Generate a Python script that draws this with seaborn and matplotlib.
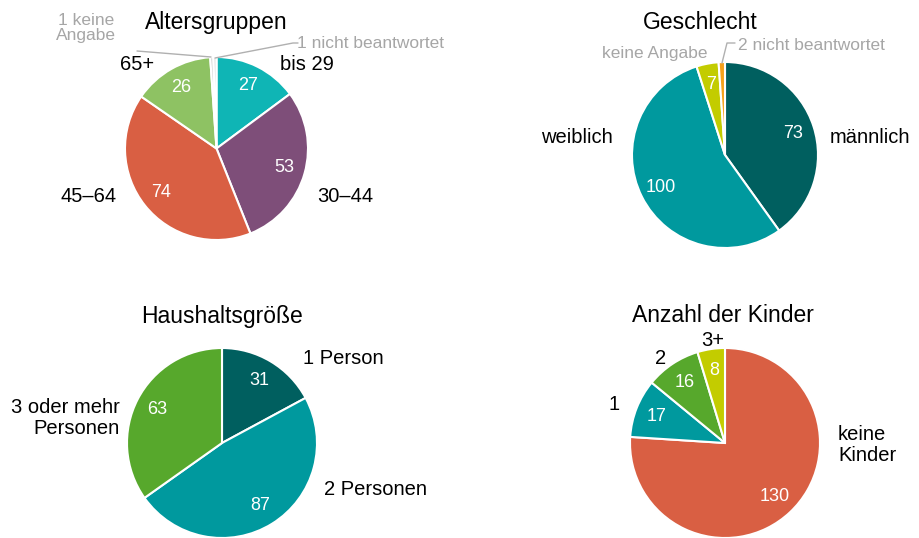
import numpy as np
import matplotlib
matplotlib.use("Agg")
import matplotlib.pyplot as plt
import seaborn as sns

# data
alter_labels = ["bis 29", "30–44", "45–64", "65+", "keine Angabe", "nicht beantwortet"]
alter_values = [27, 53, 74, 26, 1, 1]

geschlecht_labels = ["männlich", "weiblich", "keine Angabe", "nicht beantwortet"]
geschlecht_values = [73, 100, 7, 2]

haushalt_labels = ["1 Person", "2 Personen", "3 oder mehr Personen"]
haushalt_values = [31, 87, 63]

kinder_labels = ["keine Kinder", "1", "2", "3+"]
kinder_values = [130, 17, 16, 8]

sns.set_theme(style="white")
plt.rcParams["font.family"] = ["Liberation Sans", "DejaVu Sans"]

dark_teal = "#005f5f"
teal = "#00999e"
green = "#57a82c"
lime = "#c3cc00"
red = "#d95f43"
gray_txt = "#a6a6a6"

alter_colors = ["#0fb5b5", "#7e4e79", red, "#8ec263", "#c8c8c8", "#dcdcdc"]
geschlecht_colors = [dark_teal, teal, lime, "#f7a21b"]
haushalt_colors = [dark_teal, teal, green]
kinder_colors = [red, teal, green, lime]

W, H = 920, 538
fig = plt.figure(figsize=(W / 100, H / 100), dpi=100)
ax = fig.add_axes([0, 0, 1, 1])


def pie(values, colors, cx, cy, r):
    # cx, cy in pixel coords from top-left
    total = sum(values)
    wedges, _, autotexts = ax.pie(
        values, colors=colors, startangle=90, counterclock=False,
        center=(cx, H - cy), radius=r, pctdistance=0.77,
        autopct=lambda p: f"{round(p * total / 100)}" if p * total / 100 >= 5 else "",
        wedgeprops=dict(edgecolor="white", linewidth=1.5),
        textprops=dict(color="white", fontsize=13))
    return wedges


def txt(x, y, s, size=14.5, color="black", ha="center", **kw):
    ax.text(x, H - y, s, fontsize=size, color=color, ha=ha, va="center", **kw)


def leader(xs, ys):
    ax.plot(xs, [H - y for y in ys], color="#b0b0b0", lw=1)


# Altersgruppen
pie(alter_values, alter_colors, 216.5, 148.5, 91.5)
txt(216, 22, "Altersgruppen", size=16.5)
txt(307, 64, "bis 29")
txt(137, 64, "65+")
txt(345, 196, "30–44")
txt(89, 196, "45–64")
txt(86, 28, "1 keine\nAngabe", size=12.5, color=gray_txt, linespacing=1.0)
txt(297, 43, "1 nicht beantwortet", size=12.5, color=gray_txt, ha="left")
leader([137, 211], [51, 57])
leader([215, 293, 298], [58, 43, 43])

# Geschlecht
pie(geschlecht_values, geschlecht_colors, 725, 155, 93)
txt(700, 22, "Geschlecht", size=16.5)
txt(870, 137, "männlich")
txt(577, 137, "weiblich")
txt(655, 53, "keine Angabe", size=12.5, color=gray_txt)
txt(738, 45, "2 nicht beantwortet", size=12.5, color=gray_txt, ha="left")
leader([722, 727, 735], [63, 43, 43])

# Haushaltsgröße
pie(haushalt_values, haushalt_colors, 222, 443, 95)
txt(222, 316, "Haushaltsgröße", size=16.5)
txt(343, 358, "1 Person")
txt(376, 490, "2 Personen")
txt(120, 418, "3 oder mehr\nPersonen", ha="right", linespacing=1.15)

# Anzahl der Kinder
pie(kinder_values, kinder_colors, 725, 443, 95)
txt(723, 316, "Anzahl der Kinder", size=16.5)
txt(713, 341, "3+")
txt(661, 358, "2")
txt(614, 405, "1")
txt(838, 445, "keine\nKinder", ha="left", linespacing=1.15)

# pie() resets the limits, so set them at the end
ax.set_xlim(0, W)
ax.set_ylim(0, H)
ax.set_aspect("equal")
ax.axis("off")

fig.savefig("out.png", dpi=100)
